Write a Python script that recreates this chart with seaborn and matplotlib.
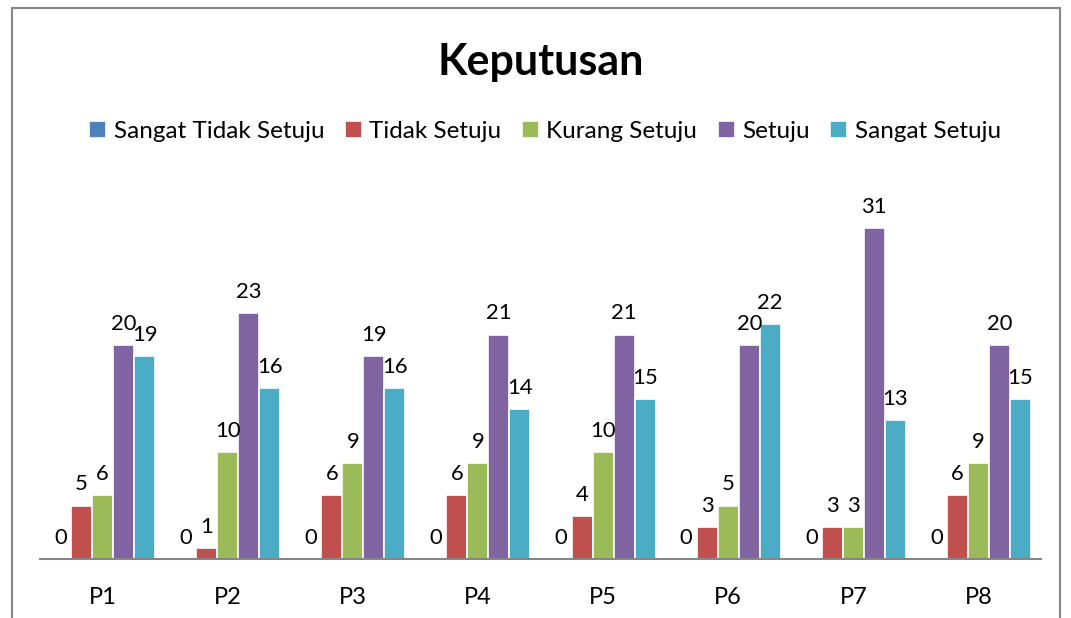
import pandas as pd
import matplotlib.pyplot as plt
import seaborn as sns
from matplotlib.patches import Rectangle

# Data
categories = ["P1", "P2", "P3", "P4", "P5", "P6", "P7", "P8"]
series = ["Sangat Tidak Setuju", "Tidak Setuju", "Kurang Setuju", "Setuju", "Sangat Setuju"]
sangat_tidak_setuju = [0, 0, 0, 0, 0, 0, 0, 0]
tidak_setuju = [5, 1, 6, 6, 4, 3, 3, 6]
kurang_setuju = [6, 10, 9, 9, 10, 5, 3, 9]
setuju = [20, 23, 19, 21, 21, 20, 31, 20]
sangat_setuju = [19, 16, 16, 14, 15, 22, 13, 15]
colors = ["#4F81BD", "#C0504D", "#9BBB59", "#8064A2", "#4BACC6"]

values = [sangat_tidak_setuju, tidak_setuju, kurang_setuju, setuju, sangat_setuju]
rows = []
for name, vals in zip(series, values):
    for cat, v in zip(categories, vals):
        rows.append({"Pertanyaan": cat, "Jawaban": name, "Jumlah": v})
df = pd.DataFrame(rows)

sns.set_style("white")
plt.rcParams["font.family"] = ["Lato", "DejaVu Sans"]
plt.rcParams["text.color"] = "black"
plt.rcParams["xtick.color"] = "black"

fig = plt.figure(figsize=(10.71, 6.18), dpi=100)
ax = fig.add_axes([0.0373, 0.0955, 0.9347, 0.6051])

sns.barplot(data=df, x="Pertanyaan", y="Jumlah", hue="Jawaban", order=categories,
            hue_order=series, palette=colors, saturation=1, width=0.84,
            edgecolor="white", linewidth=1.2, ax=ax, legend=True)

for cont in ax.containers:
    ax.bar_label(cont, fmt="%g", padding=8, fontsize=15.8, color="black")

ax.set_xlim(-0.5, 7.5)
ax.set_ylim(0, 35)
ax.set_xlabel("")
ax.set_ylabel("")
ax.set_yticks([])
ax.tick_params(axis="x", length=0, pad=20, labelsize=17, labelcolor="black")
for s in ["top", "right", "left"]:
    ax.spines[s].set_visible(False)
ax.spines["bottom"].set_color("#868686")
ax.spines["bottom"].set_linewidth(1.5)

handles, labels = ax.get_legend_handles_labels()
ax.get_legend().remove()
fig.legend(handles, labels, loc="center", bbox_to_anchor=(0.509, 0.788), ncol=5,
           frameon=False, fontsize=17.5, handlelength=0.7, handleheight=0.7,
           handletextpad=0.3, columnspacing=0.85)

fig.text(0.505, 0.9, "Keputusan", ha="center", va="center", fontsize=31,
         fontweight="bold", color="black")

# chart border
fig.patches.append(Rectangle((12 / 1071, -0.05), 1048 / 1071, 1.05 - 8 / 618,
                             transform=fig.transFigure, fill=False,
                             edgecolor="#878787", linewidth=1.5))

fig.savefig("out.png", dpi=100)
